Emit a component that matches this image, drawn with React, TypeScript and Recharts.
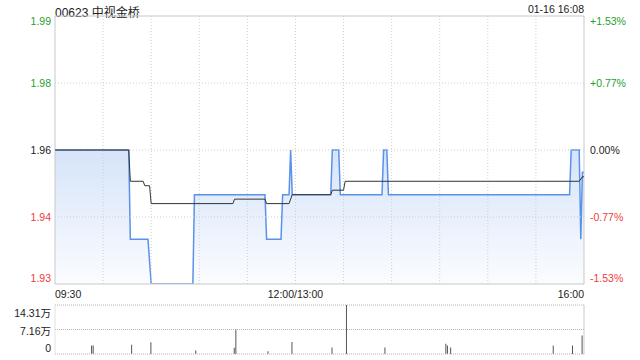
import React from 'react';
import {
  ComposedChart,
  Area,
  Line,
  Bar,
  XAxis,
  YAxis,
  ReferenceLine,
  ReferenceArea,
} from 'recharts';

// minutes since 09:30 (lunch break removed), 330 = 16:00
const priceMinutes = [0, 46, 47, 58, 60, 86, 87, 131, 132, 141, 142, 146, 147, 148, 172, 173, 177, 178, 204, 205, 207, 208, 321, 322, 327, 328, 329, 330];
const priceValues = [1.96, 1.96, 1.94, 1.94, 1.93, 1.93, 1.95, 1.95, 1.94, 1.94, 1.95, 1.95, 1.96, 1.95, 1.95, 1.96, 1.96, 1.95, 1.95, 1.96, 1.96, 1.95, 1.95, 1.96, 1.96, 1.94, 1.955, 1.955];

const avgMinutes = [0, 46, 47, 55, 56, 59, 60, 111, 112, 131, 132, 146, 148, 172, 173, 180, 181, 327, 329, 330];
const avgValues = [1.96, 1.96, 1.953, 1.953, 1.952, 1.952, 1.948, 1.948, 1.949, 1.949, 1.948, 1.948, 1.95, 1.95, 1.951, 1.951, 1.953, 1.953, 1.954, 1.954];

// volume in 万 shares
const volMinutes = [23, 24, 48, 60, 88, 112, 113, 133, 148, 173, 182, 206, 244, 245, 247, 311, 323, 329];
const volValues = [2.5, 2.5, 2.7, 3.4, 1.0, 1.8, 7.2, 0.8, 3.5, 1.9, 14.31, 1.9, 3.0, 2.5, 1.9, 2.5, 2.5, 5.4];

const prevClose = 1.96;
const priceTicks = [1.93, 1.945, 1.96, 1.975, 1.99];
const priceTickLabels = ['1.93', '1.94', '1.96', '1.98', '1.99'];
const pctTickLabels = ['-1.53%', '-0.77%', '0.00%', '+0.77%', '+1.53%'];
const timeTicks = [0, 150, 330];
const timeLabels = ['09:30', '12:00/13:00', '16:00'];
const gridMinutes = [30, 60, 90, 120, 150, 180, 210, 240, 270, 300];
const volTicks = [0, 7.155, 14.31];
const volTickLabels = ['0', '7.16万', '14.31万'];

const priceData = priceMinutes.map((t, i) => ({ t, p: priceValues[i] }));
const avgData = avgMinutes.map((t, i) => ({ t, a: avgValues[i] }));
const volData = volMinutes.map((t, i) => ({ t, v: volValues[i] }));

const FONT = "Arial, 'Liberation Sans', 'Noto Sans CJK SC', sans-serif";
const GREEN = '#1f9f2a';
const RED = '#f03c3c';
const GRID = '#cfcfcf';
const BORDER = '#c8c8c8';

const tickColor = (v: number) => (Math.abs(v - prevClose) < 1e-6 ? '#222' : v > prevClose ? GREEN : RED);
const edgeShift = (i: number, n: number) => (i === 0 ? -6 : i === n - 1 ? 5 : 0);

const LeftPriceTick = (props: any) => {
  const { y, payload } = props;
  const i = priceTicks.indexOf(payload.value);
  return (
    <text x={51} y={y + edgeShift(i, priceTicks.length)} dy={4} textAnchor="end" fontSize={10.5} fontFamily={FONT} fill={tickColor(payload.value)}>
      {priceTickLabels[i]}
    </text>
  );
};

const RightPctTick = (props: any) => {
  const { y, payload } = props;
  const i = priceTicks.indexOf(payload.value);
  return (
    <text x={590} y={y + edgeShift(i, priceTicks.length)} dy={4} textAnchor="start" fontSize={10.5} fontFamily={FONT} fill={tickColor(payload.value)}>
      {pctTickLabels[i]}
    </text>
  );
};

const TimeTick = (props: any) => {
  const { x, payload } = props;
  const i = timeTicks.indexOf(payload.value);
  const anchor = i === 0 ? 'start' : i === timeTicks.length - 1 ? 'end' : 'middle';
  return (
    <text x={x} y={298} textAnchor={anchor} fontSize={10.5} fontFamily={FONT} fill="#222">
      {timeLabels[i]}
    </text>
  );
};

const VolTick = (props: any) => {
  const { y, payload } = props;
  const i = volTicks.indexOf(payload.value);
  const shift = i === 0 ? -6 : i === volTicks.length - 1 ? 8 : 1;
  return (
    <text x={51} y={y + shift} dy={4} textAnchor="end" fontSize={10.5} fontFamily={FONT} fill="#222">
      {volTickLabels[i]}
    </text>
  );
};

export default function App() {
  return (
    <div style={{ position: 'absolute', left: 0, top: 0, width: 640, height: 360, background: '#fff', fontFamily: FONT }}>
      <div style={{ position: 'absolute', left: 55, top: 3, fontSize: 12, color: '#222' }}>00623 中视金桥</div>
      <div style={{ position: 'absolute', right: 56, top: 3, fontSize: 10.5, color: '#222' }}>01-16 16:08</div>

      <div style={{ position: 'absolute', left: 0, top: 0 }}>
        <ComposedChart width={640} height={300} margin={{ top: 16, right: 0, bottom: 0, left: 0 }}>
          <defs>
            <linearGradient id="priceFill" x1="0" y1="0" x2="0" y2="1">
              <stop offset="0%" stopColor="#d6e4f9" stopOpacity={1} />
              <stop offset="100%" stopColor="#fbfcff" stopOpacity={1} />
            </linearGradient>
          </defs>
          <XAxis
            xAxisId="x"
            dataKey="t"
            type="number"
            domain={[0, 330]}
            ticks={timeTicks}
            interval={0}
            tick={<TimeTick />}
            axisLine={false}
            tickLine={false}
            height={16}
            allowDataOverflow
          />
          <YAxis
            yAxisId="l"
            orientation="left"
            type="number"
            domain={[1.93, 1.99]}
            ticks={priceTicks}
            interval={0}
            tick={<LeftPriceTick />}
            axisLine={false}
            tickLine={false}
            width={55}
            allowDataOverflow
          />
          <YAxis
            yAxisId="r"
            orientation="right"
            type="number"
            domain={[1.93, 1.99]}
            ticks={priceTicks}
            interval={0}
            tick={<RightPctTick />}
            axisLine={false}
            tickLine={false}
            width={56}
            allowDataOverflow
          />
          {gridMinutes.map((m) => (
            <ReferenceLine key={m} xAxisId="x" yAxisId="l" x={m} stroke={GRID} strokeDasharray="1 2" />
          ))}
          {[1.945, 1.96, 1.975].map((v) => (
            <ReferenceLine key={v} xAxisId="x" yAxisId="l" y={v} stroke={GRID} strokeDasharray="1 2" />
          ))}
          <Area
            xAxisId="x"
            yAxisId="l"
            data={priceData}
            dataKey="p"
            type="linear"
            stroke="#5a92ea"
            strokeWidth={1.5}
            fill="url(#priceFill)"
            fillOpacity={1}
            dot={false}
            activeDot={false}
            isAnimationActive={false}
          />
          <Line
            xAxisId="x"
            yAxisId="l"
            data={avgData}
            dataKey="a"
            type="linear"
            stroke="#333"
            strokeWidth={1}
            dot={false}
            activeDot={false}
            isAnimationActive={false}
          />
          <ReferenceArea xAxisId="x" yAxisId="l" x1={0} x2={330} y1={1.93} y2={1.99} fill="none" stroke={BORDER} strokeWidth={1} ifOverflow="visible" />
          <text x={580} y={281} textAnchor="end" fontSize={11} fontFamily={FONT} fill="#d0d0d0">
            sina.com
          </text>
        </ComposedChart>
      </div>

      <div style={{ position: 'absolute', left: 0, top: 300 }}>
        <ComposedChart data={volData} width={640} height={60} margin={{ top: 5, right: 56, bottom: 6, left: 0 }}>
          <XAxis xAxisId="x" dataKey="t" type="number" domain={[0, 330]} hide allowDataOverflow />
          <YAxis
            yAxisId="v"
            type="number"
            domain={[0, 14.31]}
            ticks={volTicks}
            interval={0}
            tick={<VolTick />}
            axisLine={false}
            tickLine={false}
            width={55}
            allowDataOverflow
          />
          {volTicks.map((v) => (
            <ReferenceLine key={v} xAxisId="x" yAxisId="v" y={v} stroke="#b4b4b4" strokeDasharray="1 1" ifOverflow="visible" />
          ))}
          <ReferenceLine xAxisId="x" yAxisId="v" x={0} stroke="#e2e2e2" ifOverflow="visible" />
          <ReferenceLine xAxisId="x" yAxisId="v" x={330} stroke={BORDER} ifOverflow="visible" />
          <Bar xAxisId="x" yAxisId="v" dataKey="v" fill="#555" barSize={1} isAnimationActive={false} />
        </ComposedChart>
      </div>
    </div>
  );
}
